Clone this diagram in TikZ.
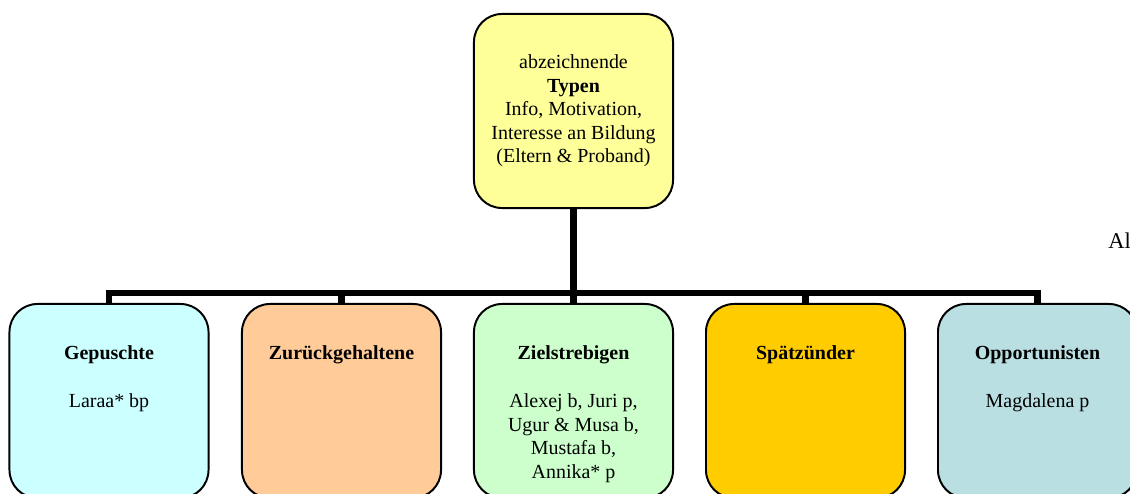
\documentclass[tikz,border=0pt]{standalone}
\usepackage{fontspec}
\setmainfont{Liberation Serif}
\usepackage{xcolor}
\usetikzlibrary{calc}
\definecolor{typyellow}{HTML}{FFFF99}
\definecolor{gepcyan}{HTML}{CCFFFF}
\definecolor{zurorange}{HTML}{FFCC99}
\definecolor{zielgreen}{HTML}{CCFFCC}
\definecolor{spaetgold}{HTML}{FFCC00}
\definecolor{oppblue}{HTML}{B9DFE3}
\tikzset{%
    box/.style={inner sep=0pt,outer sep=0pt,shape=rectangle,draw,line width=1.4pt,rounded corners=0.7cm,minimum width=4.975cm,minimum height=4.85cm},
    boxtext/.style={inner sep=0pt,align=center,anchor=north,font=\fontsize{14.2}{16.7}\selectfont},
    conn/.style={line width=4.3pt},
}
\begin{document}
\begin{tikzpicture}[x=0.025cm,y=-0.025cm]
        \clip (0,0) rectangle (1130,493);
        \node [box,fill=typyellow,align=center,font=\fontsize{14.2}{16.7}\selectfont] (typen) at (573.5,111) {abzeichnende\\\textbf{Typen}\\Info, Motivation,\\Interesse an Bildung\\(Eltern \& Proband)};
        \node [box,fill=gepcyan] (gep) at (109,401) {};
        \node [box,fill=zurorange] (zur) at (341.5,401) {};
        \node [box,fill=zielgreen] (ziel) at (573.5,401) {};
        \node [box,fill=spaetgold] (spaet) at (805.5,401) {};
        \node [box,fill=oppblue] (opp) at (1037.5,401) {};
        \node [boxtext] (gep-t) at ($(gep.north)+(0,41)$) {\textbf{Gepuschte}\\[18pt]Laraa* bp};
        \node [boxtext] (zur-t) at ($(zur.north)+(0,41)$) {\textbf{Zurückgehaltene}};
        \node [boxtext] (ziel-t) at ($(ziel.north)+(0,41)$) {\textbf{Zielstrebigen}\\[18pt]Alexej b, Juri p,\\Ugur \& Musa b,\\Mustafa b,\\Annika* p};
        \node [boxtext] (spaet-t) at ($(spaet.north)+(0,41)$) {\textbf{Spätzünder}};
        \node [boxtext] (opp-t) at ($(opp.north)+(0,41)$) {\textbf{Opportunisten}\\[18pt]Magdalena p};
        \node [inner sep=0pt,anchor=base west,font=\fontsize{16}{19}\selectfont] (abb) at (1108,248) {Al};

        \coordinate (bar) at (573.5,293);
        \draw [conn] (typen.south) -- (typen.south |- bar);
        \draw [conn] (gep.north) |- (bar) -| (opp.north);
        \foreach \n in {zur,ziel,spaet}
            \draw [conn] (\n.north) -- (\n.north |- bar);
    \end{tikzpicture}
\end{document}
